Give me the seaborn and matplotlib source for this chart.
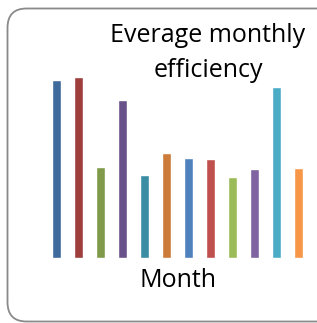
"""
Average monthly efficiency bar chart.
"""
import matplotlib
matplotlib.use('Agg')
import matplotlib.pyplot as plt
import seaborn as sns
import pandas as pd
from matplotlib.patches import FancyBboxPatch

months = ['Jan', 'Feb', 'Mar', 'Apr', 'May', 'Jun',
          'Jul', 'Aug', 'Sep', 'Oct', 'Nov', 'Dec']
efficiency = [178, 181, 91, 158, 83, 105, 100, 99, 81, 89, 171, 90]
colors = ['#3F6A9C', '#9E3E3D', '#7F9A48', '#69528A', '#3A8DA3', '#CC7B38',
          '#4F81BD', '#C0504D', '#9BBB59', '#8064A2', '#4BACC6', '#F79646']
title_lines = ['Everage monthly', 'efficiency']


def main() -> None:
    sns.set_style("white")
    plt.rcParams['font.family'] = ['Open Sans', 'DejaVu Sans']
    plt.rcParams['text.color'] = 'black'
    plt.rcParams['axes.labelcolor'] = 'black'
    df = pd.DataFrame({'Month': months, 'Efficiency': efficiency})

    fig = plt.figure(figsize=(3.17, 3.23), dpi=100)
    frame = FancyBboxPatch((7.5 / 317, 1.5 / 323), 330 / 317, 313 / 323,
                           boxstyle='round,pad=0,rounding_size=0.06',
                           transform=fig.transFigure, facecolor='none',
                           edgecolor='#8a8a8a', linewidth=1.3)
    fig.patches.append(frame)

    ax = fig.add_axes([45.5 / 317, 65 / 323, 264 / 317, 200 / 323])
    sns.barplot(data=df, x='Month', y='Efficiency', hue='Month',
                palette=colors, saturation=1, width=0.41, legend=False, ax=ax)
    ax.set_ylim(0, 200)
    ax.set_xlim(-0.5, 11.5)
    ax.set_xticks([])
    ax.set_yticks([])
    ax.set_ylabel('')
    ax.set_xlabel('Month', fontsize=18, labelpad=7)
    sns.despine(ax=ax, left=True, bottom=True)

    fig.text(208 / 317, 1 - 35 / 323, title_lines[0],
             ha='center', va='center', fontsize=18)
    fig.text(208 / 317, 1 - 70 / 323, title_lines[1],
             ha='center', va='center', fontsize=18)

    fig.savefig('out.png', dpi=100)


if __name__ == '__main__':
    main()
